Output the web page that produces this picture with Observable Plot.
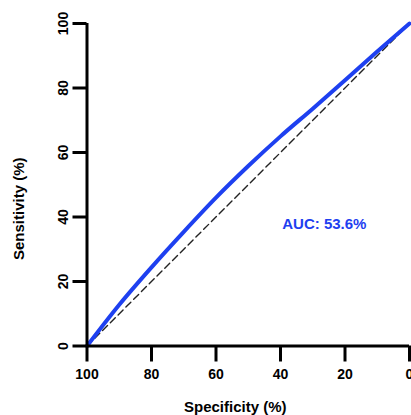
<!DOCTYPE html>
<html>
<head>
<meta charset="utf-8">
<script src="https://cdn.jsdelivr.net/npm/d3@7"></script>
<script src="https://cdn.jsdelivr.net/npm/@observablehq/plot@0.6"></script>
<style>
  html, body { margin: 0; padding: 0; background: #fff; }
  #chart svg { display: block; }
</style>
</head>
<body>
<div id="chart"></div>
<script>
// ROC curve values
const specificity = [100, 90, 80, 70, 60, 50, 40, 30, 20, 10, 0];
const sensitivity = [0, 12.8, 24.4, 35.4, 46.0, 55.8, 65.0, 73.6, 82.4, 91.3, 100];
const xTicks = [100, 80, 60, 40, 20, 0];
const yTicks = [0, 20, 40, 60, 80, 100];
const diagonal = [[100, 0], [0, 100]];
const aucLabel = "AUC: 53.6%";
const xTitle = "Specificity (%)";
const yTitle = "Sensitivity (%)";

const roc = specificity.map((s, i) => ({spec: s, sens: sensitivity[i]}));
const blue = "#1e40f0";
const font = "'Liberation Sans', Arial, Helvetica, sans-serif";

const chart = Plot.plot({
  width: 411,
  height: 415,
  marginLeft: 86.5,
  marginRight: 2,
  marginTop: 23,
  marginBottom: 69.5,
  style: {fontFamily: font, background: "#fff", overflow: "visible"},
  x: {domain: [100, 0], axis: null},
  y: {domain: [0, 100], axis: null},
  marks: [
    // diagonal reference
    Plot.line(diagonal, {x: d => d[0], y: d => d[1], stroke: "#222", strokeWidth: 1.4, strokeDasharray: "7,4"}),
    // ROC curve
    Plot.line(roc, {x: "spec", y: "sens", stroke: blue, strokeWidth: 4, curve: "monotone-x", strokeLinecap: "round"}),
    // axis lines
    Plot.ruleY([0], {stroke: "#000", strokeWidth: 3}),
    Plot.ruleX([100], {stroke: "#000", strokeWidth: 3}),
    // x ticks
    Plot.axisX({ticks: xTicks, tickSize: 16, strokeWidth: 3, stroke: "#000",
      tickFormat: () => "", label: null}),
    Plot.text(xTicks, {x: d => d, frameAnchor: "bottom", dy: 29, text: d => String(d),
      fontSize: 14, fontWeight: "bold", fill: "#000", lineAnchor: "middle"}),
    // y ticks
    Plot.axisY({ticks: yTicks, tickSize: 14, strokeWidth: 3, stroke: "#000",
      tickFormat: () => "", label: null}),
    Plot.text(yTicks, {y: d => d, frameAnchor: "left", dx: -23, rotate: -90, text: d => String(d),
      fontSize: 14, fontWeight: "bold", fill: "#000", lineAnchor: "middle", textAnchor: "middle"}),
    // axis titles
    Plot.text([xTitle], {frameAnchor: "bottom", dx: -13, dy: 61.5, text: d => d,
      fontSize: 15, fontWeight: "bold", fill: "#000", lineAnchor: "middle"}),
    Plot.text([yTitle], {frameAnchor: "left", dx: -67.5, dy: 24, rotate: -90, text: d => d,
      fontSize: 15, fontWeight: "bold", fill: "#000", lineAnchor: "middle", textAnchor: "middle"}),
    // AUC annotation
    Plot.text([aucLabel], {x: 26.4, y: 37.9, text: d => d, fontSize: 15, fontWeight: "bold",
      fill: blue, lineAnchor: "middle", textAnchor: "middle"})
  ]
});
document.getElementById("chart").appendChild(chart);
</script>
</body>
</html>
